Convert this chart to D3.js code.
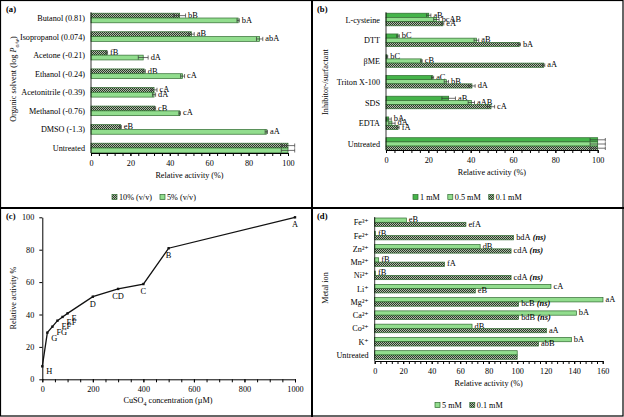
<!DOCTYPE html>
<html>
<head>
<meta charset="utf-8">
<script src="https://cdn.jsdelivr.net/npm/d3@7"></script>
<style>
body { margin: 0; background: #fff; }
svg, svg text { font-family: "Liberation Serif", "DejaVu Serif", serif; }
</style>
</head>
<body>
<script>
// ---- (a) organic solvents ----
var solvents = ["Butanol (0.81)", "Isopropanol (0.074)", "Acetone (-0.21)", "Ethanol (-0.24)",
  "Acetonitrile (-0.39)", "Methanol (-0.76)", "DMSO (-1.3)", "Untreated"];
var solventSeries = ["10% (v/v)", "5% (v/v)"];
var solvent10 = [45, 51, 8, 27, 32, 32.4, 15, 100];
var solvent10Err = [3, 1.4, 0.4, 0.6, 1.5, 0.4, 0.4, 3.4];
var solvent10Sig = ["bB", "aB", "fB", "dB", "cA", "cB", "eB", ""];
var solvent5 = [74.7, 85.6, 26.5, 46.5, 32, 45, 89, 100];
var solvent5Err = [0.6, 1.6, 2.5, 1, 0.8, 0.4, 0.6, 3.4];
var solvent5Sig = ["bA", "abA", "dA", "cA", "dA", "cA", "aA", ""];

// ---- (b) inhibitors / surfactants ----
var inhibitors = ["L-cysteine", "DTT", "βME", "Triton X-100", "SDS", "EDTA", "Untreated"];
var inhibSeries = ["1 mM", "0.5 mM", "0.1 mM"];
var inhib1 = [20.2, 5.7, 0.5, 22, 29.6, 1.3, 100];
var inhib1Err = [1, 0.6, 0.3, 0.5, 3.2, 1.2, 3.6];
var inhib1Sig = ["aB", "bC", "bC", "aC", "aB", "bA", ""];
var inhib05 = [23.8, 42.7, 16.7, 28.5, 40.3, 2.8, 100];
var inhib05Err = [1.3, 1.1, 0.4, 1, 1.5, 1.5, 3.6];
var inhib05Sig = ["bcAB", "aB", "cB", "bB", "aAB", "dA", ""];
var inhib01 = [26.8, 63, 74.5, 40.6, 49.6, 5.7, 100];
var inhib01Err = [0.5, 0.5, 0.5, 1.5, 1.7, 0.5, 3.6];
var inhib01Sig = ["eA", "bA", "aA", "dA", "cA", "fA", ""];

// ---- (c) CuSO4 concentration ----
var cuConc = [0, 20, 40, 60, 80, 100, 200, 300, 400, 500, 1000];
var cuActivity = [8, 28.8, 32.5, 36.2, 38.5, 40.7, 51, 55.8, 58.8, 80.9, 100];
var cuSig = ["H", "G", "FG", "EF", "EF", "E", "D", "CD", "C", "B", "A"];

// ---- (d) metal ions ----
var metals = ["Fe³⁺", "Fe²⁺", "Zn²⁺", "Mn²⁺", "Ni²⁺", "Li⁺", "Mg²⁺", "Ca²⁺", "Co²⁺", "K⁺", "Untreated"];
var metalSeries = ["5 mM", "0.1 mM"];
var metal5 = [22.2, 0.5, 74, 2.8, 0.5, 123.7, 160.2, 141.5, 68.3, 138, 100];
var metal5Sig = ["eB", "fB", "dB", "fB", "fB", "cA", "aA", "bA", "dB", "bA", ""];
var metal01 = [64, 97.5, 95.7, 49, 95.7, 70.6, 101, 101, 120.5, 115, 100];
var metal01Sig = ["efA", "bdA", "cdA", "fA", "cdA", "eB", "bcB", "bdB", "aA", "abB", ""];
var metal01Ns = [false, true, true, false, true, false, true, true, false, false, false];

var W = 624, H = 417;
var FONT = "Liberation Serif, DejaVu Serif, serif";
var FS = 8.2, SIG_FS = 8.4;
var svg = d3.select("body").append("svg").attr("width", W).attr("height", H)
    .attr("font-family", FONT);

var defs = svg.append("defs");
var pat = defs.append("pattern").attr("id", "hatch")
    .attr("width", 2).attr("height", 2).attr("patternUnits", "userSpaceOnUse");
pat.append("rect").attr("width", 2).attr("height", 2).attr("fill", "#aebfaa");
pat.append("rect").attr("width", 1).attr("height", 1).attr("fill", "#2c3728");
pat.append("rect").attr("x", 1).attr("y", 1).attr("width", 1).attr("height", 1).attr("fill", "#2c3728");

var fills = { light: "#92dd8e", dark: "#45b44a", hatch: "url(#hatch)" };
var barStroke = "#2f6b2f";

// panel frames
svg.append("rect").attr("x", 0.5).attr("y", 0.5).attr("width", W - 1.5).attr("height", H - 1.5)
  .attr("fill", "none").attr("stroke", "#000").attr("stroke-width", 1.2);
svg.append("line").attr("x1", 312).attr("x2", 312).attr("y1", 0).attr("y2", H)
  .attr("stroke", "#000").attr("stroke-width", 2);
svg.append("line").attr("x1", 0).attr("x2", W).attr("y1", 208).attr("y2", 208)
  .attr("stroke", "#000").attr("stroke-width", 2);

function panelLabel(txt, x, y) {
  svg.append("text").attr("x", x).attr("y", y).attr("font-size", 8.6)
    .attr("font-weight", "bold").text(txt);
}

function xAxis(g, x, y, max, major, minor) {
  g.append("g").attr("transform", "translate(0," + y + ")")
    .call(d3.axisBottom(x).tickValues(d3.range(0, max + 0.01, minor)).tickSize(3).tickFormat("").tickSizeOuter(0))
    .call(a => a.select(".domain").remove());
  var ax = g.append("g").attr("transform", "translate(0," + y + ")")
    .call(d3.axisBottom(x).tickValues(d3.range(0, max + 0.01, major)).tickSize(3).tickPadding(4)
      .tickSizeOuter(0).tickFormat(d3.format("d")));
  g.selectAll(".tick line, .domain").attr("stroke", "#000");
  g.selectAll("g").attr("font-family", FONT).attr("font-size", FS);
  return ax;
}

function barPanel(o) {
  var g = svg.append("g");
  var x = d3.scaleLinear().domain([0, o.max]).range([o.x0, o.x1]);
  var y = d3.scalePoint().domain(o.cats).range([o.yTop, o.yBot]);
  var n = o.series.length;
  var inner = d3.scaleBand().domain(d3.range(n)).range([-n * o.bh / 2, n * o.bh / 2]);

  o.series.forEach(function(s, si) {
    var rows = o.cats.map(function(c, i) {
      return { cat: c, v: s.values[i], err: s.err ? s.err[i] : 0, sig: s.sig[i], ns: s.ns ? s.ns[i] : false };
    });
    var sg = g.append("g");
    sg.selectAll("rect").data(rows).enter().append("rect")
      .attr("x", x(0))
      .attr("y", d => y(d.cat) + inner(si))
      .attr("width", d => x(d.v) - x(0))
      .attr("height", inner.bandwidth())
      .attr("fill", s.fill)
      .attr("stroke", barStroke).attr("stroke-width", 0.7);

    // error bars
    var eb = sg.selectAll(".err").data(rows.filter(d => d.err > 0)).enter().append("g");
    eb.append("line")
      .attr("x1", d => x(d.v - d.err)).attr("x2", d => x(d.v + d.err))
      .attr("y1", d => y(d.cat) + inner(si) + inner.bandwidth() / 2)
      .attr("y2", d => y(d.cat) + inner(si) + inner.bandwidth() / 2)
      .attr("stroke", "#333").attr("stroke-width", 0.7);
    [-1, 1].forEach(function(sign) {
      eb.append("line")
        .attr("x1", d => x(d.v + sign * d.err)).attr("x2", d => x(d.v + sign * d.err))
        .attr("y1", d => y(d.cat) + inner(si) + 0.3)
        .attr("y2", d => y(d.cat) + inner(si) + inner.bandwidth() - 0.3)
        .attr("stroke", "#333").attr("stroke-width", 0.7);
    });

    // significance letters
    var t = sg.selectAll(".sig").data(rows.filter(d => d.sig)).enter().append("text")
      .attr("x", d => x(d.v + d.err) + 2.5)
      .attr("y", d => y(d.cat) + inner(si) + inner.bandwidth() / 2 + 2.2)
      .attr("font-size", SIG_FS);
    t.append("tspan").text(d => d.sig);
    t.filter(d => d.ns).append("tspan").attr("font-weight", "bold").attr("font-style", "italic")
      .text(" (ns)");
  });

  // category axis
  g.append("line").attr("x1", x(0)).attr("x2", x(0))
    .attr("y1", o.yTop - n * o.bh / 2 - 1).attr("y2", o.axisY).attr("stroke", "#000").attr("stroke-width", 0.8);
  g.selectAll(".cat").data(o.cats).enter().append("text")
    .attr("x", x(0) - 6).attr("y", d => y(d) + 3)
    .attr("text-anchor", "end").attr("font-size", FS)
    .text(d => d);

  xAxis(g, x, o.axisY, o.max, 20, 4);

  g.append("text").attr("x", (o.x0 + o.x1) / 2).attr("y", o.axisY + 25)
    .attr("text-anchor", "middle").attr("font-size", FS).text("Relative activity (%)");

  // legend
  var lg = g.append("g").attr("transform", "translate(" + o.legendX + "," + o.legendY + ")");
  var lx = 0;
  o.series.forEach(function(s) {
    lg.append("rect").attr("x", lx).attr("y", -5.5).attr("width", 5).attr("height", 5)
      .attr("fill", s.fill).attr("stroke", barStroke).attr("stroke-width", 0.7);
    var tt = lg.append("text").attr("x", lx + 7).attr("y", 0).attr("font-size", FS).text(s.name);
    lx += 7 + tt.node().getComputedTextLength() + 8;
  });
  return { g: g, x: x, y: y };
}

// (a)
panelLabel("(a)", 6, 12);
barPanel({
  cats: solvents, max: 100, x0: 91, x1: 288, yTop: 18, yBot: 148, bh: 4.8, axisY: 153,
  legendX: 112, legendY: 200,
  series: [
    { name: solventSeries[0], values: solvent10, err: solvent10Err, sig: solvent10Sig, fill: fills.hatch },
    { name: solventSeries[1], values: solvent5, err: solvent5Err, sig: solvent5Sig, fill: fills.light }
  ]
});
var ta = svg.append("text").attr("transform", "translate(16,79) rotate(-90)")
  .attr("text-anchor", "middle").attr("font-size", FS);
ta.append("tspan").text("Organic solvent (log ");
ta.append("tspan").attr("font-style", "italic").text("P");
ta.append("tspan").attr("font-size", 6).attr("font-style", "italic").attr("baseline-shift", "sub").text("o/w");
ta.append("tspan").text(")");

// (b)
panelLabel("(b)", 317, 12);
barPanel({
  cats: inhibitors, max: 100, x0: 386, x1: 597.7, yTop: 19.5, yBot: 144, bh: 4.2, axisY: 150,
  legendX: 413, legendY: 200,
  series: [
    { name: inhibSeries[0], values: inhib1, err: inhib1Err, sig: inhib1Sig, fill: fills.dark },
    { name: inhibSeries[1], values: inhib05, err: inhib05Err, sig: inhib05Sig, fill: fills.light },
    { name: inhibSeries[2], values: inhib01, err: inhib01Err, sig: inhib01Sig, fill: fills.hatch }
  ]
});
svg.append("text").attr("transform", "translate(328,82) rotate(-90)")
  .attr("text-anchor", "middle").attr("font-size", FS).text("Inhibitor-/surfactant");

// (c)
panelLabel("(c)", 6, 219);
(function() {
  var g = svg.append("g");
  var x = d3.scaleLinear().domain([0, 1000]).range([42.3, 295]);
  var y = d3.scaleLinear().domain([0, 100]).range([379.3, 217.3]);
  xAxis(g, x, y(0), 1000, 200, 50);
  var ay = g.append("g").attr("transform", "translate(" + x(0) + ",0)")
    .call(d3.axisLeft(y).tickValues(d3.range(0, 101, 20)).tickSize(3).tickPadding(5).tickSizeOuter(0));
  ay.attr("font-family", FONT).attr("font-size", FS);
  ay.selectAll("line, path").attr("stroke", "#000");

  var pts = cuConc.map((c, i) => ({ c: c, v: cuActivity[i], s: cuSig[i] }));
  g.append("path").datum(pts)
    .attr("d", d3.line().x(d => x(d.c)).y(d => y(d.v)))
    .attr("fill", "none").attr("stroke", "#111").attr("stroke-width", 1.3);
  g.selectAll(".pt").data(pts).enter().append("rect")
    .attr("x", d => x(d.c) - 1.2).attr("y", d => y(d.v) - 1.2)
    .attr("width", 2.4).attr("height", 2.4).attr("fill", "#111");
  g.selectAll(".lab").data(pts).enter().append("text")
    .attr("x", d => x(d.c) + (d.c <= 100 ? 4 : 0))
    .attr("y", d => y(d.v) + (d.c <= 100 ? 8 : 10))
    .attr("text-anchor", d => d.c <= 100 ? "start" : "middle")
    .attr("font-size", SIG_FS).text(d => d.s);

  var tx = g.append("text").attr("x", 168).attr("y", 403).attr("text-anchor", "middle").attr("font-size", FS);
  tx.append("tspan").text("CuSO");
  tx.append("tspan").attr("font-size", 6).attr("baseline-shift", "sub").text("4");
  tx.append("tspan").text(" concentration (µM)");
  g.append("text").attr("transform", "translate(16,298) rotate(-90)")
    .attr("text-anchor", "middle").attr("font-size", FS).text("Relative activity %");
})();

// (d)
panelLabel("(d)", 317, 219);
barPanel({
  cats: metals, max: 160, x0: 374.7, x1: 602.7, yTop: 222.3, yBot: 355, bh: 4.3, axisY: 361,
  legendX: 435, legendY: 408,
  series: [
    { name: metalSeries[0], values: metal5, sig: metal5Sig, fill: fills.light },
    { name: metalSeries[1], values: metal01, sig: metal01Sig, ns: metal01Ns, fill: fills.hatch }
  ]
});
svg.append("text").attr("transform", "translate(328,288) rotate(-90)")
  .attr("text-anchor", "middle").attr("font-size", FS).text("Metal ion");
</script>
</body>
</html>
